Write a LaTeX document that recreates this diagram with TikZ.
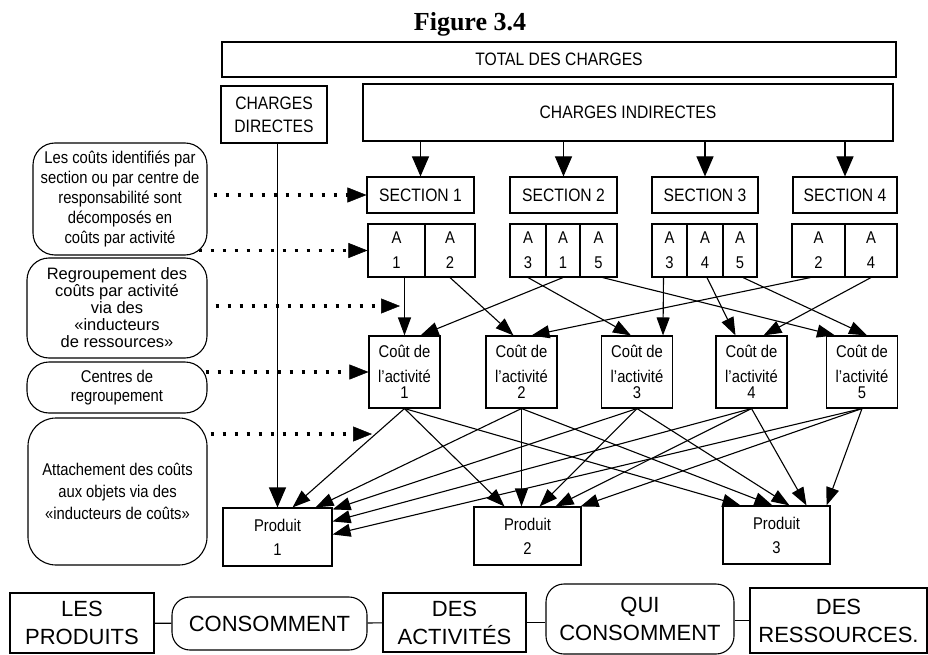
\documentclass[tikz,border=0pt]{standalone}
\usepackage{fontspec}
\setmainfont{Liberation Sans}
\newfontfamily\narrowsf{Liberation Sans}[FakeStretch=0.87]
\newfontfamily\titlefont{Liberation Serif}
\usetikzlibrary{arrows.meta}

\newcommand\fs[2]{\fontsize{#1}{#2}\selectfont}

\begin{document}
\begin{tikzpicture}[x=1pt, y=-1pt,
  box/.style={draw, line width=1.1pt, inner sep=0pt, align=center, font=\narrowsf\fs{18}{21}},
  cell/.style={box, minimum height=53pt, font=\narrowsf\fs{17}{25}},
  cout/.style={box, minimum width=71pt, minimum height=72pt, font=\narrowsf\fs{17}{20}},
  prod/.style={box, minimum height=58pt, font=\narrowsf\fs{17}{24}},
  note/.style={box, rounded corners=22pt},
  verb/.style={box, font=\fs{22}{28}},
  flow/.style={-{Triangle[length=18pt 0 0, width=13pt 0 0]}, line width=1.1pt},
  feed/.style={-{Triangle[length=20pt 0 0, width=17pt 0 0]}, line width=1.1pt},
  dots/.style={-{Triangle[length=19pt 0 0, width=15pt 0 0, line width=0.5pt]}, line width=3.5pt, dash pattern=on 3.5pt off 8.5pt}
]
  \useasboundingbox (0,0) rectangle (928,655);

  \node[anchor=base, font=\titlefont\bfseries\fs{26}{30}] (title) at (470,31) {Figure 3.4};

  \node[box, minimum width=674pt, minimum height=35pt] (total) at (559,59.5) {TOTAL DES CHARGES};
  \node[box, minimum width=106pt, minimum height=57pt, font=\narrowsf\fs{18}{23}] (direct) at (274,114.5) {CHARGES\\DIRECTES};
  \node[box, minimum width=530pt, minimum height=57pt] (indirect) at (628,112.5) {CHARGES INDIRECTES};

  % sections
  \node[box, minimum width=107pt, minimum height=36pt] (sec1) at (420.5,195) {SECTION 1};
  \node[box, minimum width=107pt, minimum height=36pt] (sec2) at (563.5,195) {SECTION 2};
  \node[box, minimum width=106pt, minimum height=36pt] (sec3) at (705,195) {SECTION 3};
  \node[box, minimum width=104pt, minimum height=36pt] (sec4) at (845,195) {SECTION 4};

  % activites par section
  \node[cell, minimum width=57pt] (s1a1) at (396.5,250.5) {A\\1};
  \node[cell, minimum width=50pt] (s1a2) at (450,250.5) {A\\2};
  \node[cell, minimum width=36pt] (s2a3) at (528,250.5) {A\\3};
  \node[cell, minimum width=34pt] (s2a1) at (563,250.5) {A\\1};
  \node[cell, minimum width=37pt] (s2a5) at (598.5,250.5) {A\\5};
  \node[cell, minimum width=35pt] (s3a3) at (669.5,250.5) {A\\3};
  \node[cell, minimum width=36pt] (s3a4) at (705,250.5) {A\\4};
  \node[cell, minimum width=34pt] (s3a5) at (740,250.5) {A\\5};
  \node[cell, minimum width=53pt] (s4a2) at (818.5,250.5) {A\\2};
  \node[cell, minimum width=52pt] (s4a4) at (871,250.5) {A\\4};

  % centres de regroupement
  \node[cout] (cout1) at (404.5,372) {Coût de\\[5pt]l’activité\\[-4pt]1};
  \node[cout] (cout2) at (521.5,372) {Coût de\\[5pt]l’activité\\[-4pt]2};
  \node[cout] (cout3) at (637,372) {Coût de\\[5pt]l’activité\\[-4pt]3};
  \node[cout] (cout4) at (751.5,372) {Coût de\\[5pt]l’activité\\[-4pt]4};
  \node[cout] (cout5) at (862,372) {Coût de\\[5pt]l’activité\\[-4pt]5};

  \node[prod, minimum width=109pt] (prod1) at (277.5,537) {Produit\\1};
  \node[prod, minimum width=107pt] (prod2) at (527.5,536) {Produit\\2};
  \node[prod, minimum width=107pt] (prod3) at (776.5,535) {Produit\\3};

  % commentaires a gauche
  \node[note, minimum width=174pt, minimum height=112pt, font=\narrowsf\fs{17}{20}] (lb1) at (120,199)
    {Les coûts identifiés par\\section ou par centre de\\responsabilité sont\\décomposés en\\coûts par activité};
  \node[note, minimum width=180pt, minimum height=100pt, font=\fs{16.5}{17}] (lb2) at (117,308)
    {Regroupement des\\coûts par activité\\via des\\«inducteurs\\de ressources»};
  \node[note, minimum width=180pt, minimum height=51pt, font=\narrowsf\fs{17}{19}] (lb3) at (117,387.5)
    {Centres de\\regroupement};
  \node[note, minimum width=179pt, minimum height=147pt, rounded corners=28pt, font=\narrowsf\fs{17}{22}] (lb4) at (117.5,491.5)
    {Attachement des coûts\\aux objets via des\\«inducteurs de coûts»};

  % phrase du bas
  \node[verb, minimum width=144pt, minimum height=60pt] (les) at (82,623) {LES\\PRODUITS};
  \node[verb, rounded corners=18pt, minimum width=195pt, minimum height=53pt] (cons) at (269.5,623.5) {CONSOMMENT};
  \node[verb, minimum width=143pt, minimum height=59pt] (desact) at (454.5,622.5) {DES\\ACTIVITÉS};
  \node[verb, rounded corners=18pt, minimum width=188pt, minimum height=70pt] (qui) at (640,619) {QUI\\CONSOMMENT};
  \node[verb, minimum width=177pt, minimum height=65pt] (desres) at (838.5,620.5) {DES\\RESSOURCES.};

  \draw[line width=1.1pt] (les) -- (cons);
  \draw[line width=1.1pt] (cons) -- (desact);
  \draw[line width=1.1pt] (desact.east) -- (qui.west |- desact.east);
  \draw[line width=1.1pt] (qui.east |- desres.west) -- (desres.west);

  % charges vers sections
  \draw[feed] (sec1.north |- indirect.south) -- (sec1.north);
  \draw[feed] (sec2.north |- indirect.south) -- (sec2.north);
  \draw[feed] (sec3.north |- indirect.south) -- (sec3.north);
  \draw[feed] (sec4.north |- indirect.south) -- (sec4.north);
  \draw[feed] (prod1.north |- direct.south) -- (prod1.north);

  % inducteurs de ressources
  \draw[flow] (cout1.north |- s1a1.south) -- (cout1.north);
  \draw[flow] (s1a2.south) -- ([xshift=-8pt]cout2.north);
  \draw[flow] (s2a3.south) -- ([xshift=-6pt]cout3.north);
  \draw[flow] (s2a1.south) -- ([xshift=16pt]cout1.north);
  \draw[flow] ([xshift=4pt]s2a5.south) -- ([xshift=-27pt]cout5.north);
  \draw[flow] ([xshift=-6pt]s3a3.south) -- ([xshift=26pt]cout3.north);
  \draw[flow] ([xshift=2pt]s3a4.south) -- ([xshift=-16pt]cout4.north);
  \draw[flow] ([xshift=3pt]s3a5.south) -- ([xshift=5pt]cout5.north);
  \draw[flow] ([xshift=-8pt]s4a2.south) -- ([xshift=10pt]cout2.north);
  \draw[flow] (s4a4.south) -- ([xshift=12pt]cout4.north);

  % inducteurs de couts
  \draw[flow] (cout1.south) -- ([xshift=15pt]prod1.north);
  \draw[flow] (cout1.south) -- ([xshift=-23pt]prod2.north);
  \draw[flow] (cout1.south) -- ([xshift=-36pt]prod3.north);
  \draw[flow] (cout2.south) -- ([xshift=38pt]prod1.north);
  \draw[flow] (cout2.south) -- ([xshift=-6pt]prod2.north);
  \draw[flow] (cout2.south) -- ([xshift=-4pt]prod3.north);
  \draw[flow] (cout3.south) -- ([yshift=-2pt]prod1.north east);
  \draw[flow] (cout3.south) -- ([xshift=12pt]prod2.north);
  \draw[flow] (cout3.south) -- ([xshift=13pt]prod3.north);
  \draw[flow] (cout4.south) -- ([yshift=-14pt]prod1.north east);
  \draw[flow] (cout4.south) -- ([xshift=28pt]prod2.north);
  \draw[flow] (cout4.south) -- ([xshift=30pt]prod3.north);
  \draw[flow] (cout5.south) -- ([yshift=-27pt]prod1.north east);
  \draw[flow] (cout5.south) -- ([xshift=-1pt]prod2.north east);
  \draw[flow] (cout5.south) -- ([xshift=50pt]prod3.north);

  % fleches pointillees
  \coordinate (regtip) at (400,306);
  \coordinate (attip) at (372,434);
  \draw[dots] ([xshift=6pt]lb1.east |- sec1.west) -- (sec1.west);
  \draw[dots] ([xshift=-9pt]lb1.east |- s1a1.west) -- (s1a1.west);
  \draw[dots] ([xshift=8pt]lb2.east |- regtip) -- (regtip);
  \draw[dots] ([xshift=-2pt]lb3.east |- cout1.west) -- (cout1.west);
  \draw[dots] ([xshift=3pt]lb4.east |- attip) -- (attip);
\end{tikzpicture}
\end{document}
